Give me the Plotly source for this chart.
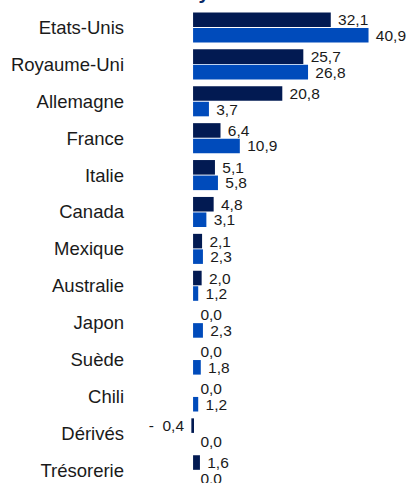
import plotly.graph_objects as go

categories = ["Etats-Unis", "Royaume-Uni", "Allemagne", "France", "Italie", "Canada",
              "Mexique", "Australie", "Japon", "Suède", "Chili", "Dérivés", "Trésorerie"]
serie_1 = [32.1, 25.7, 20.8, 6.4, 5.1, 4.8, 2.1, 2.0, 0.0, 0.0, 0.0, -0.4, 1.6]
serie_2 = [40.9, 26.8, 3.7, 10.9, 5.8, 3.1, 2.3, 1.2, 2.3, 1.8, 1.2, 0.0, 0.0]

DARK = "#021a52"
BLUE = "#004bbb"
NBSP = "\u00a0"


def fmt(v):
    # format "à la française" : virgule décimale, "- 0,4" pour les négatifs
    s = f"{abs(v):.1f}".replace(".", ",")
    if v < 0:
        return "-" + NBSP * 2 + s + NBSP
    return NBSP + s


fig = go.Figure()
for vals, color in [(serie_1, DARK), (serie_2, BLUE)]:
    fig.add_trace(go.Bar(
        y=categories,
        x=vals,
        orientation="h",
        marker=dict(color=color, line=dict(width=0)),
        text=[fmt(v) for v in vals],
        textposition="outside",
        constraintext="none",
        textfont=dict(family="Liberation Sans, Arial", size=15.5, color="#1a1a1a"),
        cliponaxis=False,
        showlegend=False,
    ))

# bout de titre coupé en haut de l'image
fig.add_annotation(
    text="<b>Pays</b>", xref="paper", yref="paper", x=0.25, y=1,
    xanchor="center", yanchor="bottom", yshift=-5, showarrow=False,
    font=dict(family="Liberation Sans, Arial", size=20, color="#0a2a66"),
)

fig.update_layout(
    width=408,
    height=483,
    margin=dict(l=127, r=0, t=0, b=0),
    barmode="group",
    bargap=0.16,
    bargroupgap=0.06,
    plot_bgcolor="white",
    paper_bgcolor="white",
    font=dict(family="Liberation Sans, Arial"),
)
fig.update_xaxes(range=[-15.4, 50.1], visible=False, showgrid=False, zeroline=False)
fig.update_yaxes(
    range=[12.345, -0.745],
    showgrid=False, zeroline=False, showline=False, ticks="",
    ticklabelstandoff=2,
    tickfont=dict(family="Liberation Sans, Arial", size=18.5, color="#1a1a1a"),
)

fig.write_html("out.html", config={"displayModeBar": False},
               post_script="document.body.style.margin='0';")
